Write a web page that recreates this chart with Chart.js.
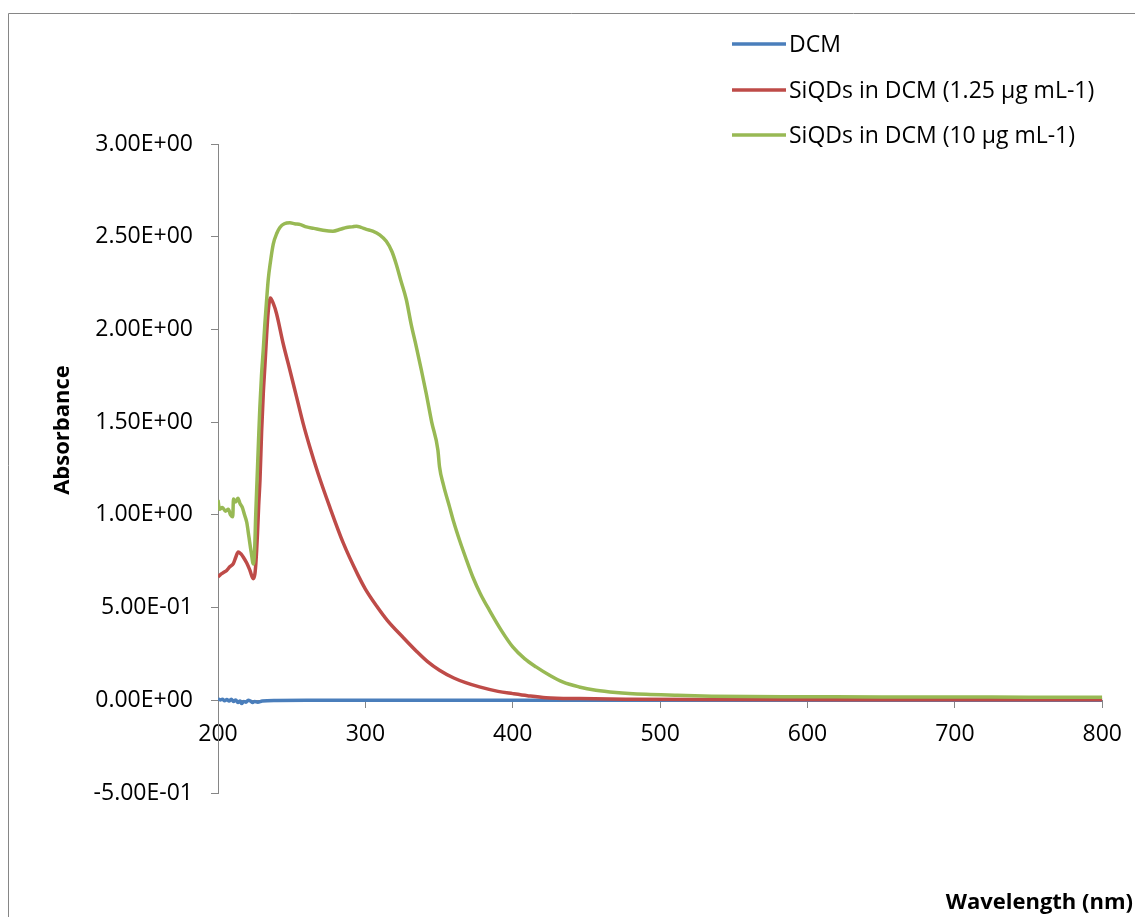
<!DOCTYPE html>
<html>
<head>
<meta charset="utf-8">
<title>SiQDs absorbance</title>
<script src="https://cdn.jsdelivr.net/npm/chart.js@4.4.1/dist/chart.umd.min.js"></script>
<style>
    html, body { margin: 0; padding: 0; background: #ffffff; }
    canvas { display: block; }
</style>
</head>
<body>
<canvas id="chartjs-0" width="1135" height="917"></canvas>
<script>
/* DCM blank */
var dcmNm = [200, 201.5, 203, 204.5, 206, 207.5, 209, 210.5, 212, 213.5, 215, 216, 217.5, 219, 220.5, 222, 223.5, 225, 227, 230, 240, 260, 300, 400, 500, 600, 700, 800];
var dcmAbs = [0.008, 0.002, 0.006, -0.002, 0.004, -0.004, 0.006, -0.006, 0.002, -0.012, -0.004, -0.018, -0.006, -0.010, 0.000, -0.004, -0.012, -0.006, -0.010, -0.004, -0.001, 0.000, 0.000, 0.000, 0.000, 0.000, 0.000, 0.000];

/* SiQDs 1.25 ug/mL */
var lowNm = [200, 202, 204, 205.9, 208, 210.4, 212, 213.7, 215.5, 217.1, 219.5, 221.7, 223.9, 225, 225.7, 226.8, 227.6, 228.5, 229.6, 230.7, 231.8, 233, 234, 235.5, 237.5, 239.7, 244.2, 248.8, 253.3, 257.8, 262.3, 267.9, 275.8, 284.9, 295, 300, 307.5, 315, 325.5, 335, 342, 350.3, 360, 368, 377.4, 390, 400, 410, 422.6, 445, 480, 550, 650, 800];
var lowAbs = [0.665, 0.68, 0.69, 0.70, 0.72, 0.737, 0.77, 0.80, 0.79, 0.773, 0.74, 0.70, 0.656, 0.68, 0.74, 0.90, 1.05, 1.19, 1.45, 1.65, 1.80, 1.97, 2.09, 2.17, 2.14, 2.086, 1.924, 1.78, 1.636, 1.492, 1.366, 1.223, 1.043, 0.85, 0.675, 0.60, 0.51, 0.43, 0.34, 0.262, 0.21, 0.162, 0.12, 0.095, 0.072, 0.048, 0.036, 0.025, 0.014, 0.009, 0.006, 0.004, 0.003, 0.003];

/* SiQDs 10 ug/mL */
var highNm = [200, 201, 203, 205, 207, 208.5, 210, 210.5, 212, 213.5, 215, 216.5, 218, 219.5, 221, 222.5, 224, 224.8, 225.6, 226.5, 227.5, 228.4, 229.5, 230.7, 231.8, 233, 234.1, 235.5, 237.5, 240, 242, 245, 248.8, 252, 256, 260, 265, 271.3, 278, 283, 287.2, 291, 294, 297, 300.7, 305, 309.7, 314.2, 318, 321, 324, 327.8, 331, 334.6, 338, 341.3, 345, 349.2, 350.3, 353, 357.1, 360, 363.9, 368, 372.9, 378, 384.2, 392, 400, 408, 415.8, 425, 433.8, 445, 456.4, 470, 490.3, 510, 535, 560, 600, 650, 700, 750, 800];
var highAbs = [1.08, 1.03, 1.04, 1.02, 1.03, 1.00, 0.99, 1.085, 1.07, 1.09, 1.06, 1.04, 1.00, 0.96, 0.88, 0.80, 0.735, 0.80, 1.00, 1.19, 1.40, 1.58, 1.75, 1.89, 2.03, 2.16, 2.27, 2.36, 2.46, 2.52, 2.55, 2.57, 2.575, 2.57, 2.565, 2.553, 2.545, 2.535, 2.53, 2.54, 2.55, 2.553, 2.557, 2.55, 2.54, 2.53, 2.51, 2.475, 2.42, 2.35, 2.265, 2.16, 2.03, 1.905, 1.78, 1.654, 1.50, 1.35, 1.26, 1.16, 1.043, 0.96, 0.863, 0.77, 0.665, 0.575, 0.485, 0.38, 0.288, 0.225, 0.18, 0.135, 0.099, 0.072, 0.054, 0.042, 0.032, 0.027, 0.022, 0.020, 0.019, 0.018, 0.018, 0.017, 0.017];

var seriesNames = ["DCM", "SiQDs in DCM (1.25 \u00b5g mL-1)", "SiQDs in DCM (10 \u00b5g mL-1)"];
var seriesColors = ["#4a7ebb", "#be4b48", "#98b954"];

var xTitle = "Wavelength (nm)";
var yTitle = "Absorbance";

var FONT = "'Open Sans', sans-serif";
var AXIS_GREY = "#868686";

function toPoints(xs, ys) {
    var pts = [];
    for (var i = 0; i < xs.length; i++) {
        pts.push({ x: xs[i], y: ys[i] });
    }
    return pts;
}

/* Excel style scientific labels: 5.00E-01 */
function sciLabel(v) {
    var parts = Number(v).toExponential(2).split("e");
    var sign = parts[1].charAt(0) === "-" ? "-" : "+";
    var exp = Math.abs(parseInt(parts[1], 10)).toString();
    if (exp.length < 2) exp = "0" + exp;
    return parts[0] + "E" + sign + exp;
}

/* frame, legend and axis titles */
var decorations = {
    id: "decorations",
    afterDraw: function (chart) {
        var ctx = chart.ctx;
        ctx.save();

        ctx.strokeStyle = AXIS_GREY;
        ctx.lineWidth = 1;
        ctx.beginPath();
        ctx.moveTo(8.5, chart.height);
        ctx.lineTo(8.5, 13.5);
        ctx.lineTo(chart.width, 13.5);
        ctx.stroke();

        var rows = [44, 90, 135];
        ctx.font = "23px " + FONT;
        ctx.textBaseline = "middle";
        ctx.textAlign = "left";
        for (var i = 0; i < seriesNames.length; i++) {
            ctx.strokeStyle = seriesColors[i];
            ctx.lineWidth = 3.5;
            ctx.beginPath();
            ctx.moveTo(732, rows[i]);
            ctx.lineTo(786, rows[i]);
            ctx.stroke();
            ctx.fillStyle = "#000000";
            ctx.fillText(seriesNames[i], 789, rows[i] + 1);
        }

        ctx.font = "bold 22px " + FONT;
        ctx.textAlign = "right";
        ctx.fillText(xTitle, 1133, 903);

        ctx.translate(63, 430);
        ctx.rotate(-Math.PI / 2);
        ctx.textAlign = "center";
        ctx.fillText(yTitle, 0, 0);
        ctx.restore();
    }
};

var ctx = document.getElementById("chartjs-0");

var myChart = new Chart(ctx, {
    "type": "line",
    "data": {
        "datasets": [{
            label: seriesNames[0],
            data: toPoints(dcmNm, dcmAbs),
            borderColor: seriesColors[0],
            order: 2
        }, {
            label: seriesNames[1],
            data: toPoints(lowNm, lowAbs),
            borderColor: seriesColors[1],
            order: 1
        }, {
            label: seriesNames[2],
            data: toPoints(highNm, highAbs),
            borderColor: seriesColors[2],
            order: 0
        }]
    },
    "options": {
        responsive: false,
        animation: false,
        devicePixelRatio: 1,
        layout: {
            autoPadding: false,
            padding: { left: 0, top: 144, right: 31, bottom: 124 }
        },
        elements: {
            point: { radius: 0 },
            line: { borderWidth: 3.5, cubicInterpolationMode: "monotone", fill: false }
        },
        plugins: {
            legend: { display: false },
            tooltip: { enabled: false }
        },
        scales: {
            x: {
                type: "linear",
                position: { y: 0 },
                min: 200,
                max: 800,
                afterFit: function (scale) { scale.height = 0; },
                ticks: {
                    stepSize: 100,
                    padding: 13,
                    color: "#000000",
                    font: { family: FONT, size: 23 },
                    maxRotation: 0
                },
                grid: {
                    drawOnChartArea: false,
                    drawTicks: true,
                    tickLength: 7,
                    color: AXIS_GREY
                },
                border: { display: true, color: AXIS_GREY, width: 1 }
            },
            y: {
                type: "linear",
                position: "left",
                min: -0.5,
                max: 3.0,
                afterFit: function (scale) { scale.width = 218; },
                ticks: {
                    stepSize: 0.5,
                    padding: 18,
                    color: "#000000",
                    font: { family: FONT, size: 23 },
                    callback: function (value) { return sciLabel(value); }
                },
                grid: {
                    drawOnChartArea: false,
                    drawTicks: true,
                    tickLength: 7,
                    color: AXIS_GREY
                },
                border: { display: true, color: AXIS_GREY, width: 1 }
            }
        }
    },
    plugins: [decorations]
});
</script>
</body>
</html>
